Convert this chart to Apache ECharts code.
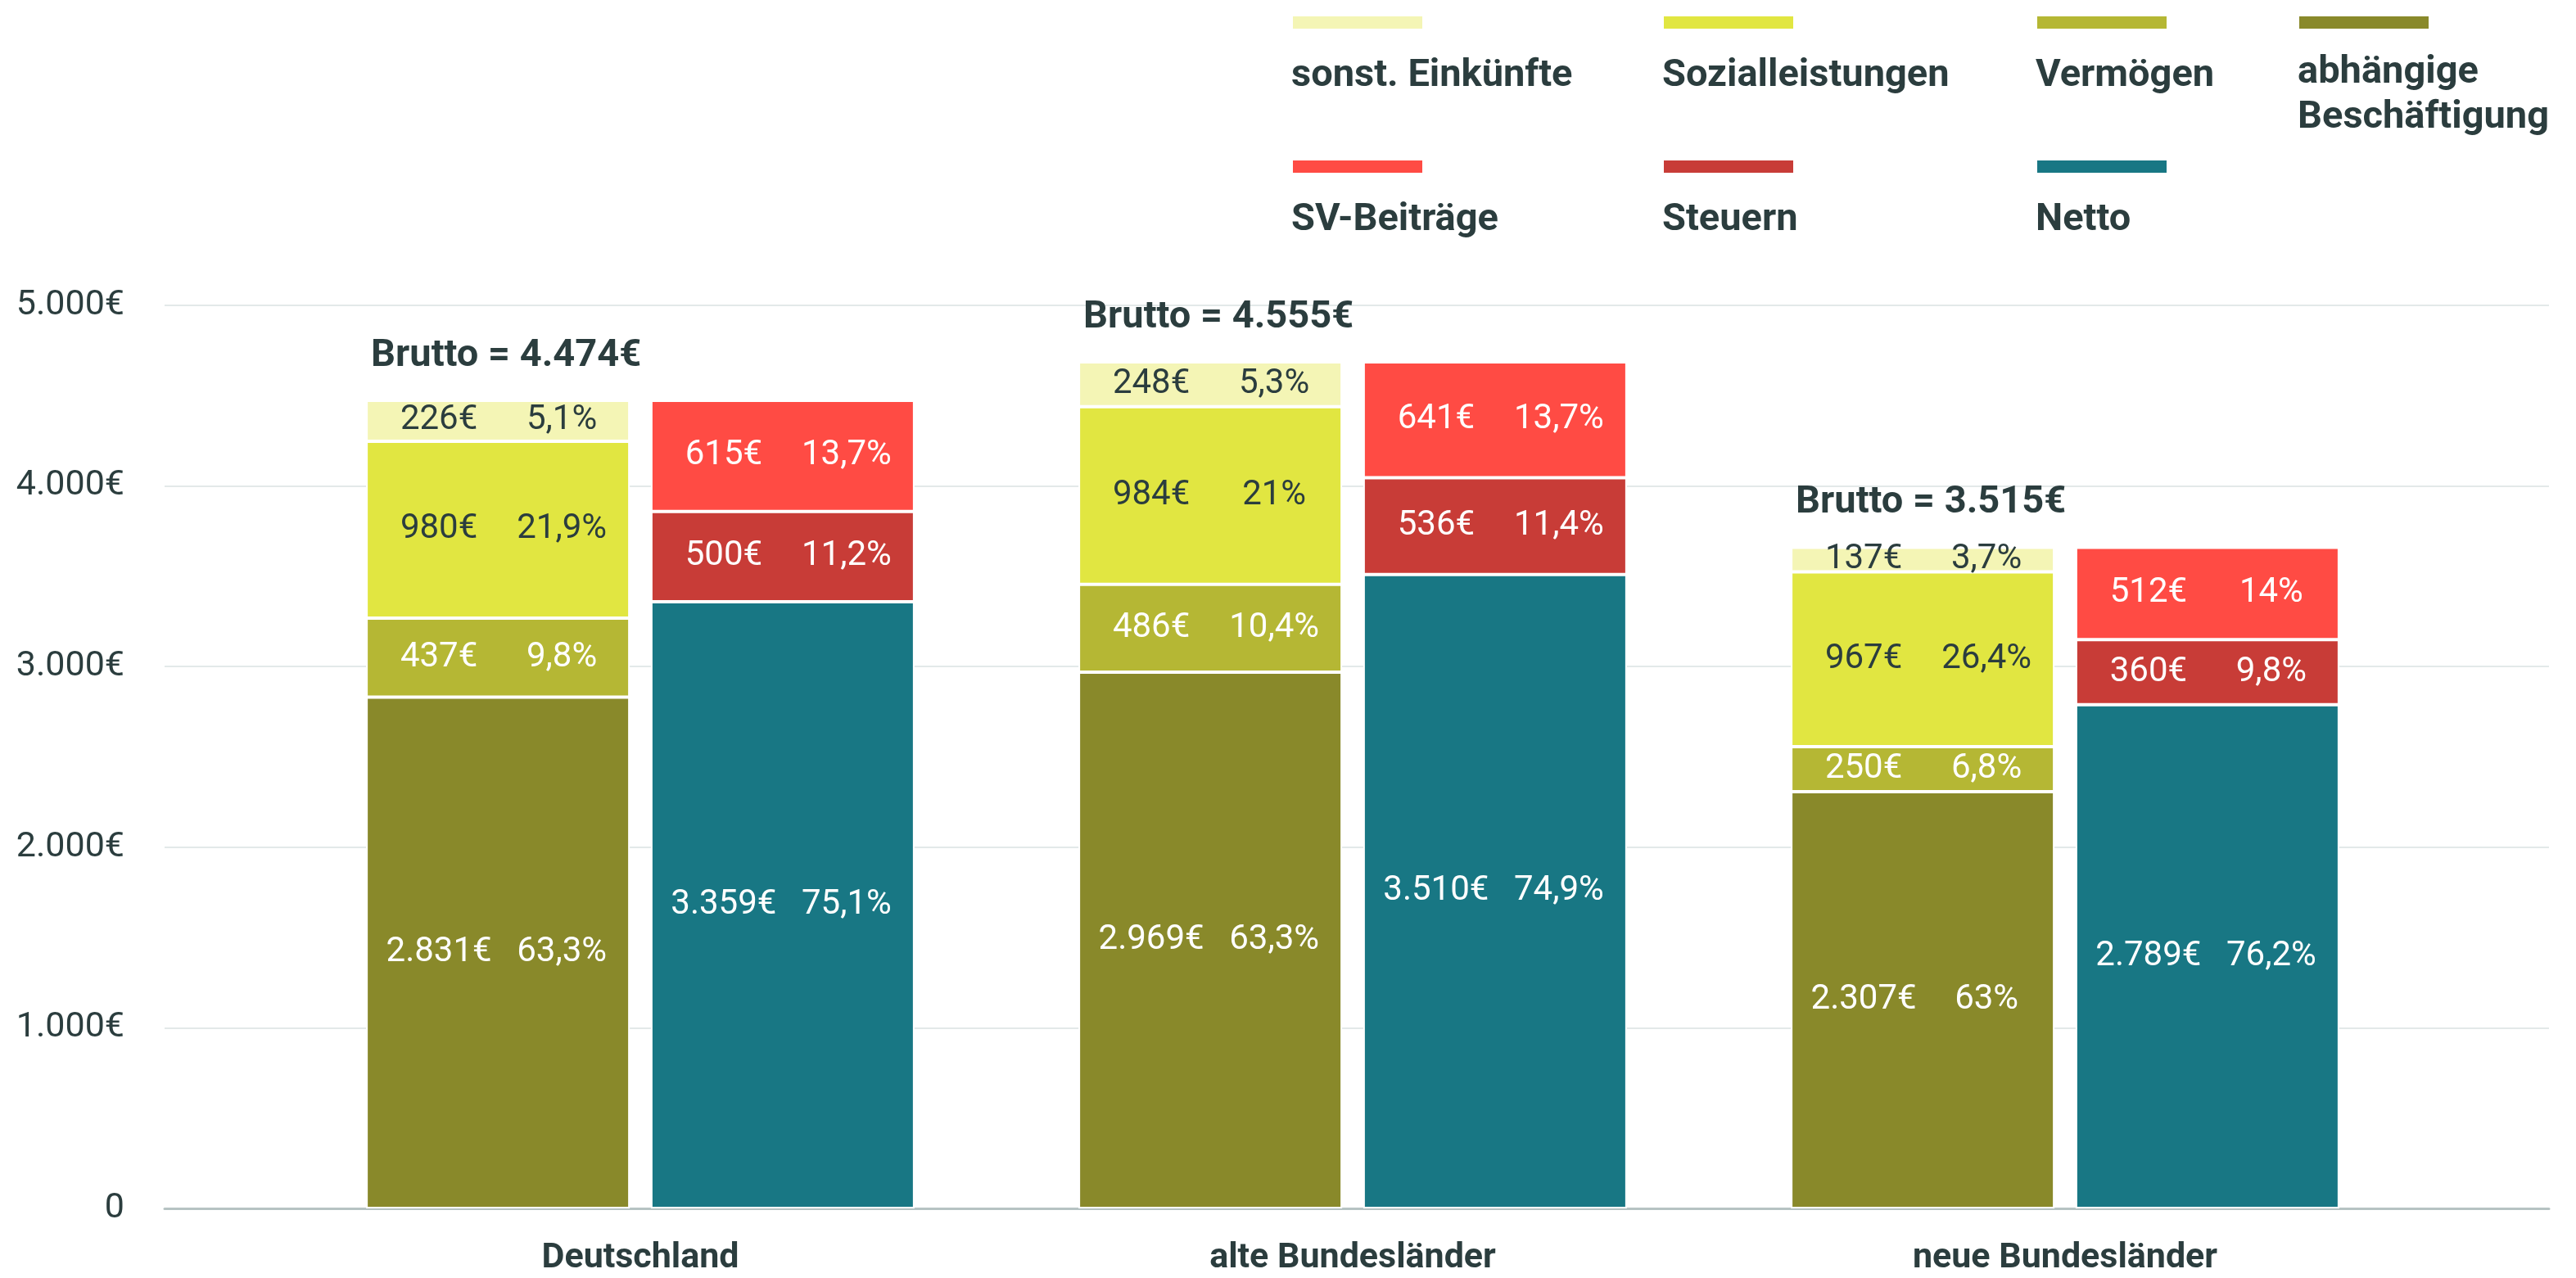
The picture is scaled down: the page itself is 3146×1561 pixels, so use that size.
<!DOCTYPE html>
<html>
<head>
<meta charset="utf-8">
<script src="https://cdn.jsdelivr.net/npm/echarts@6/dist/echarts.min.js"></script>
<style>
  html, body { margin: 0; padding: 0; background: #fff; }
  #chart { width: 3146px; height: 1561px; }
</style>
</head>
<body>
<div id="chart"></div>
<script>
    // Kategorien und Werte (Euro / Prozent vom Brutto)
    let categories = ['Deutschland', 'alte Bundesländer', 'neue Bundesländer'];
    let brutto = [4474, 4555, 3515];

    let beschaeftigung = [2831, 2969, 2307];
    let beschaeftigungPct = [63.3, 63.3, 63];
    let vermoegen = [437, 486, 250];
    let vermoegenPct = [9.8, 10.4, 6.8];
    let sozial = [980, 984, 967];
    let sozialPct = [21.9, 21, 26.4];
    let sonst = [226, 248, 137];
    let sonstPct = [5.1, 5.3, 3.7];

    let netto = [3359, 3510, 2789];
    let nettoPct = [75.1, 74.9, 76.2];
    let steuern = [500, 536, 360];
    let steuernPct = [11.2, 11.4, 9.8];
    let sv = [615, 641, 512];
    let svPct = [13.7, 13.7, 14];

    let yTicks = [0, 1000, 2000, 3000, 4000, 5000];

    const dark = '#2b3d3e';

    function euro(n){
        return String(n).replace(/\B(?=(\d{3})+(?!\d))/g, '.');
    }
    function pct(p){
        return String(p).replace('.', ',');
    }

    function segment(name, stack, values, pcts, color, textColor){
        return {
            name: name,
            type: 'bar',
            stack: stack,
            xAxisIndex: 1,
            yAxisIndex: 1,
            barWidth: 322,
            barGap: '8%',
            data: values,
            itemStyle: { color: color, borderColor: '#fff', borderWidth: 2 },
            label: {
                show: true,
                position: 'inside',
                offset: [8, 0],
                formatter: function(p){
                    return '{a|' + euro(values[p.dataIndex]) + '€}{b|' + pct(pcts[p.dataIndex]) + '%}';
                },
                rich: {
                    a: { width: 140, align: 'center', fontSize: 42, color: textColor, fontFamily: 'Roboto' },
                    b: { width: 160, align: 'center', fontSize: 42, color: textColor, fontFamily: 'Roboto' }
                }
            }
        };
    }

    // Legende: Farbbalken oben, Text darunter
    let legendNames = ['sonst. Einkünfte', 'Sozialleistungen', 'Vermögen', 'abhängige Beschäftigung', 'SV-Beiträge', 'Steuern', 'Netto'];
    let legendText = ['sonst. Einkünfte', 'Sozialleistungen', 'Vermögen', 'abhängige\nBeschäftigung', 'SV-Beiträge', 'Steuern', 'Netto'];
    let legendPos = [[1577, 18], [2030, 18], [2486, 18], [2806, 18], [1577, 194], [2030, 194], [2486, 194]];

    let legends = legendNames.map(function(n, i){
        return {
            data: [n],
            left: legendPos[i][0],
            top: legendPos[i][1],
            padding: 0,
            itemWidth: 160,
            itemHeight: 17,
            icon: 'rect',
            selectedMode: false,
            formatter: function(){ return ''; }
        };
    });
    let legendLabels = legendText.map(function(t, i){
        let twoLines = t.indexOf('\n') >= 0;
        return {
            type: 'text',
            left: legendPos[i][0],
            top: legendPos[i][1] + (twoLines ? 44 : 48),
            style: {
                text: t,
                fill: dark,
                fontSize: 47,
                fontWeight: 'bold',
                fontFamily: 'Roboto',
                lineHeight: 55
            }
        };
    });

    let chart = echarts.init(document.getElementById('chart'));
    let option = {
        animation: false,
        textStyle: { fontFamily: 'Roboto' },
        legend: legends,
        graphic: legendLabels,
        grid: [
            { left: 201, right: 33, top: 373, bottom: 85 },
            { left: 347, right: 189, top: 373, bottom: 85 }
        ],
        xAxis: [
            {
                type: 'value',
                gridIndex: 0,
                min: 0,
                max: 1,
                axisLine: { show: true, lineStyle: { color: '#b6c3c3', width: 3 } },
                axisTick: { show: false },
                axisLabel: { show: false },
                splitLine: { show: false }
            },
            {
                type: 'category',
                gridIndex: 1,
                data: categories,
                axisLine: { show: false },
                axisTick: { show: false },
                axisLabel: { fontSize: 43, fontWeight: 'bold', color: dark, margin: 40 }
            }
        ],
        yAxis: [
            {
                type: 'value',
                gridIndex: 0,
                min: yTicks[0],
                max: yTicks[yTicks.length - 1],
                interval: 1000,
                axisLine: { show: false },
                axisTick: { show: false },
                axisLabel: {
                    fontSize: 43,
                    color: dark,
                    margin: 49,
                    formatter: function(v){ return v === 0 ? '0' : euro(v) + '€'; }
                },
                splitLine: { lineStyle: { color: '#e3e9e9', width: 2 } }
            },
            {
                type: 'value',
                gridIndex: 1,
                min: yTicks[0],
                max: yTicks[yTicks.length - 1],
                show: false
            }
        ],
        series: [
            segment('abhängige Beschäftigung', 'brutto', beschaeftigung, beschaeftigungPct, '#89892a', '#fff'),
            segment('Vermögen', 'brutto', vermoegen, vermoegenPct, '#b5b734', '#fff'),
            segment('Sozialleistungen', 'brutto', sozial, sozialPct, '#e1e641', dark),
            segment('sonst. Einkünfte', 'brutto', sonst, sonstPct, '#f4f5b5', dark),
            {
                // nur Träger für die "Brutto = ..." Beschriftung über dem linken Balken
                name: 'Brutto',
                type: 'bar',
                stack: 'brutto',
                xAxisIndex: 1,
                yAxisIndex: 1,
                barWidth: 322,
                barGap: '8%',
                data: [0, 0, 0],
                itemStyle: { color: 'rgba(0,0,0,0)' },
                label: {
                    show: true,
                    position: [6, -54],
                    align: 'left',
                    verticalAlign: 'middle',
                    fontSize: 47,
                    fontWeight: 'bold',
                    color: dark,
                    formatter: function(p){ return 'Brutto = ' + euro(brutto[p.dataIndex]) + '€'; }
                }
            },
            segment('Netto', 'netto', netto, nettoPct, '#187784', '#fff'),
            segment('Steuern', 'netto', steuern, steuernPct, '#c83c37', '#fff'),
            segment('SV-Beiträge', 'netto', sv, svPct, '#ff4b44', '#fff')
        ]
    };
    chart.setOption(option, true);
    window.addEventListener('resize', function () {
        chart.resize();
    });
</script>
</body>
</html>
